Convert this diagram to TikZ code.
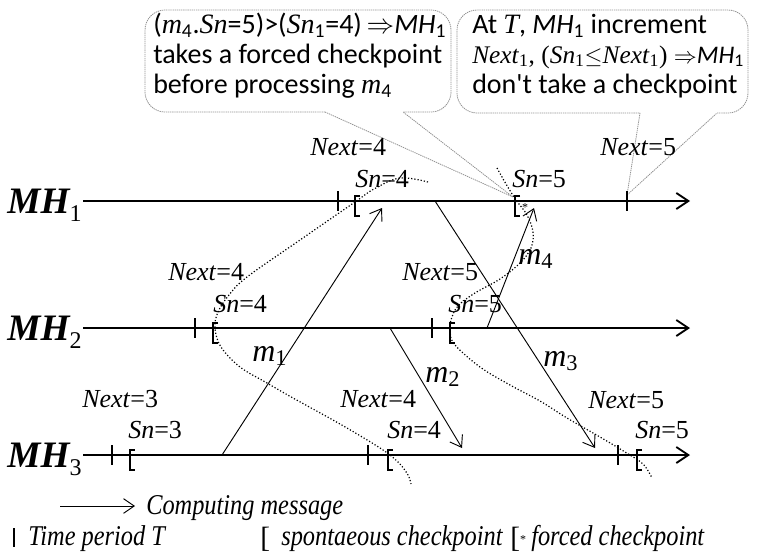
\documentclass[tikz,border=0pt]{standalone}
\usepackage{fontspec}
\setmainfont{Liberation Serif}
\newfontfamily\calibri{Carlito}
\newfontfamily\legendfont[FakeStretch=0.85]{Liberation Serif}
\usetikzlibrary{arrows.meta}

% host label: bold italic MH with an upright index
\newcommand\MHlabel[1]{{\fontsize{28}{32}\selectfont\bfseries\itshape MH}\raisebox{-6pt}{\fontsize{18}{20}\selectfont #1}}
% Times italic inside the Calibri callouts
\newcommand\ti[1]{{\rmfamily\itshape #1}}
% time-period tick and checkpoint bracket on a host line
\newcommand\PeriodTick[2]{\draw[periodtick] (#1,{#2-10}) -- (#1,{#2+10});}
\newcommand\CkBracket[2]{\draw[bracket] ({#1+5},{#2-5}) -- (#1,{#2-5}) -- (#1,{#2+15}) -- ({#1+5},{#2+15});}

\begin{document}
\begin{tikzpicture}[x=0.75pt,y=-0.75pt,
  timeline/.style={line width=1.8pt,-{Straight Barb[length=9pt,width=12pt,line width=1.4pt]}},
  msg/.style={line width=0.7pt,-{Straight Barb[length=8pt,width=11pt,line width=0.7pt]}},
  periodtick/.style={line width=1.5pt},
  bracket/.style={line width=1.1pt},
  recline/.style={line width=0.9pt,dash pattern=on 0.9pt off 1.5pt},
  callout/.style={draw=gray!85,line width=0.6pt,dash pattern=on 1pt off 0.6pt},
  lbl/.style={inner sep=0pt,anchor=base west,font=\fontsize{19.5}{22}\selectfont},
  mlbl/.style={inner sep=0pt,anchor=base west,font=\fontsize{24}{28}\selectfont},
  mh/.style={inner sep=0pt,anchor=base east},
  ctext/.style={inner sep=0pt,anchor=base west,font=\calibri\fontsize{21}{22.5}\selectfont},
  legend/.style={inner sep=0pt,anchor=base west,font=\legendfont\fontsize{21.5}{26}\selectfont\itshape},
  lbrack/.style={inner sep=0pt,anchor=base west,font=\fontsize{22}{26}\selectfont}]

\useasboundingbox (0,0) rectangle (767,554);

% ---------------- callouts ----------------
\draw[callout] (325,112) -- (513,197) -- (403,112) [rounded corners=15] -- (451,112) -- (451,10) -- (145,10) -- (145,112) -- (325,112);
\draw[callout] (640,113) -- (627,195) -- (717,113) [rounded corners=15] -- (748,113) -- (748,10) -- (457,10) -- (457,113) -- (640,113);

\node[ctext] (c1a) at (153,33) {(\ti{m}\textsubscript{4}.\ti{Sn}=5)>(\ti{Sn}\textsubscript{1}=4)\,$\Rightarrow$\textit{MH}\textsubscript{1}};
\node[ctext] (c1b) at (153,63) {takes a forced checkpoint};
\node[ctext] (c1c) at (153,93) {before processing \ti{m}\textsubscript{4}};

\node[ctext] (c2a) at (472,33) {At \ti{T}, \textit{MH}\textsubscript{1} increment};
\node[ctext,font=\rmfamily\fontsize{19}{22.5}\selectfont] (c2b) at (472,63) {\textit{Next}\textsubscript{1}, (\textit{Sn}\textsubscript{1}$\leq$\textit{Next}\textsubscript{1}) $\Rightarrow${\calibri\itshape MH}{\calibri\textsubscript{1}}};
\node[ctext] (c2c) at (472,93) {don't take a checkpoint};

% ---------------- host lines ----------------
\node[mh] (mh1) at (82,213) {\MHlabel{1}};
\node[mh] (mh2) at (82,340) {\MHlabel{2}};
\node[mh] (mh3) at (82,467) {\MHlabel{3}};

\coordinate (s1) at (83,201);  \coordinate (e1) at (690,201);
\coordinate (s2) at (83,328);  \coordinate (e2) at (690,328);
\coordinate (s3) at (83,455);  \coordinate (e3) at (690,455);
\draw[timeline] (s1) -- (e1);
\draw[timeline] (s2) -- (e2);
\draw[timeline] (s3) -- (e3);

% MH1
\PeriodTick{338}{201}
\CkBracket{355}{201}
\CkBracket{515}{201}
\node[inner sep=0pt,font=\fontsize{9}{9}\selectfont] (star1) at (525,208) {*};
\PeriodTick{627}{201}
% MH2
\PeriodTick{195}{328}
\CkBracket{213}{328}
\PeriodTick{432}{328}
\CkBracket{450}{328}
% MH3
\PeriodTick{112}{455}
\CkBracket{130}{455}
\PeriodTick{368}{455}
\CkBracket{388}{455}
\PeriodTick{618}{455}
\CkBracket{637}{455}

% ---------------- labels ----------------
\node[lbl] (nx14) at (310,155) {\textit{Next}=4};
\node[lbl] (sn14) at (355,187) {\textit{Sn}=4};
\node[lbl] (sn15) at (512,187) {\textit{Sn}=5};
\node[lbl] (nx15) at (600,155) {\textit{Next}=5};

\node[lbl] (nx24) at (168,280) {\textit{Next}=4};
\node[lbl] (sn24) at (213,312) {\textit{Sn}=4};
\node[lbl] (nx25) at (402,280) {\textit{Next}=5};
\node[lbl] (sn25) at (448,312) {\textit{Sn}=5};

\node[lbl] (nx33) at (82,407) {\textit{Next}=3};
\node[lbl] (sn33) at (128,438) {\textit{Sn}=3};
\node[lbl] (nx34) at (340,407) {\textit{Next}=4};
\node[lbl] (sn34) at (387,438) {\textit{Sn}=4};
\node[lbl] (nx35) at (588,408) {\textit{Next}=5};
\node[lbl] (sn35) at (635,438) {\textit{Sn}=5};

% ---------------- messages ----------------
\coordinate (m1s) at (222,455); \coordinate (m1e) at (382,208);
\coordinate (m2s) at (390,328); \coordinate (m2e) at (462,448);
\coordinate (m3s) at (435,201); \coordinate (m3e) at (595,448);
\coordinate (m4s) at (487,328); \coordinate (m4e) at (534,208);
\draw[msg] (m1s) -- (m1e);
\draw[msg] (m2s) -- (m2e);
\draw[msg] (m3s) -- (m3e);
\draw[msg] (m4s) -- (m4e);

\node[mlbl] (lm1) at (252,361) {\textit{m}\textsubscript{1}};
\node[mlbl] (lm2) at (425,382) {\textit{m}\textsubscript{2}};
\node[mlbl] (lm3) at (543,366) {\textit{m}\textsubscript{3}};
\node[mlbl] (lm4) at (518,264) {\textit{m}\textsubscript{4}};

% ---------------- recovery lines ----------------
\draw[recline] plot[smooth,tension=0.6] coordinates {(428,182) (400,178) (374,189) (355,202) (300,240) (247,277) (229,295) (218,312) (215,328) (221,347) (240,367) (267,383) (293,398) (340,424) (380,448) (398,462) (408,475) (411,484)};
\draw[recline] plot[smooth,tension=0.6] coordinates {(497,168) (506,184) (516,200) (527,215) (533,232) (531,248) (520,263) (500,279) (475,293) (458,306) (451,320) (450,332) (455,345) (480,367) (510,385) (540,401) (567,418) (600,437) (625,452) (643,464) (652,478)};

% ---------------- legend ----------------
\coordinate (lga) at (60,506); \coordinate (lgb) at (135,506);
\draw[msg] (lga) -- (lgb);
\node[legend] (lgt1) at (146,514) {Computing message};
\draw[periodtick,line width=2pt] (14,528) -- (14,547);
\node[legend] (lgt2) at (28,545) {Time period T};
\node[lbrack] (lgb1) at (260,547) {[};
\node[legend] (lgt3) at (281,545) {spontaeous checkpoint};
\node[lbrack] (lgb2) at (510,547) {[};
\node[inner sep=0pt,font=\fontsize{9}{9}\selectfont] (lgstar) at (523,540) {*};
\node[legend] (lgt4) at (531,545) {forced checkpoint};

\end{tikzpicture}
\end{document}
